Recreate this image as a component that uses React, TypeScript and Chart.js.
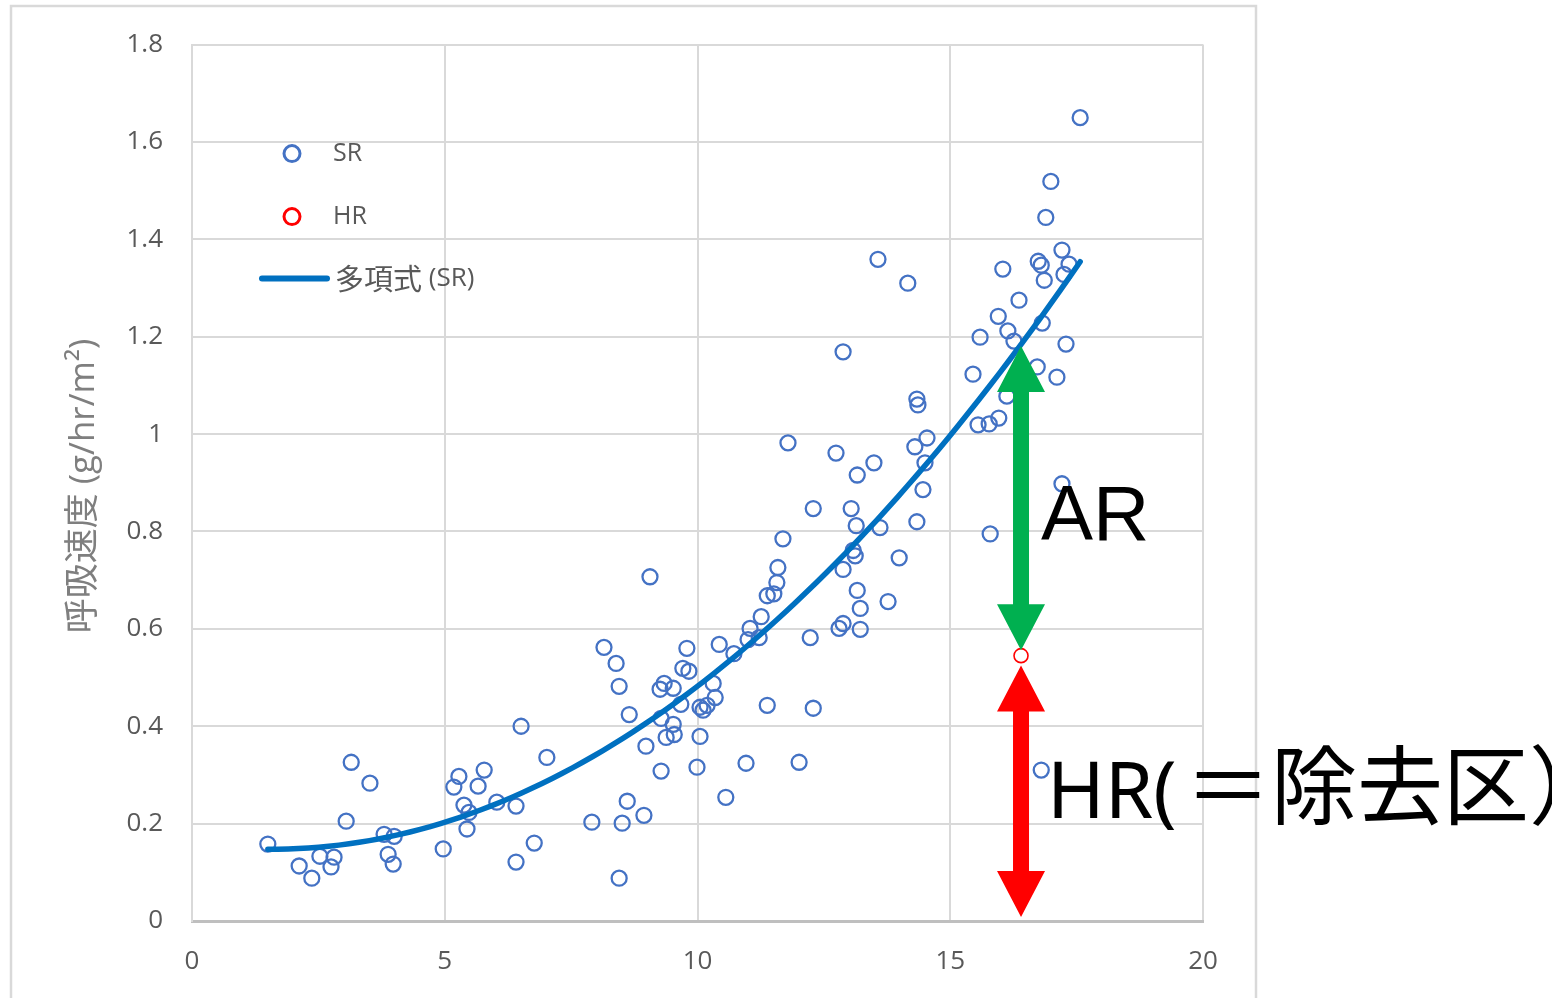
import React, { useEffect, useRef } from 'react';
import { Chart, registerables } from 'chart.js';

Chart.register(...registerables);

// ---- data ----
const SR_X = [1.50, 2.12, 2.37, 2.53, 2.75, 2.81, 3.05, 3.15, 3.52, 3.80, 4.00, 3.88, 3.98, 4.97, 5.18, 5.28, 5.38, 5.48, 5.44, 5.66, 5.78, 6.03, 6.41, 7.02, 6.51, 6.77, 6.41, 7.91, 8.15, 8.39, 8.45, 8.45, 8.51, 8.61, 8.65, 8.94, 8.98, 9.06, 9.28, 9.28, 9.26, 9.34, 9.52, 9.38, 9.54, 9.52, 9.67, 9.71, 9.83, 9.79, 9.99, 10.05, 10.05, 10.11, 10.19, 10.31, 10.35, 10.43, 10.56, 10.72, 10.96, 11.04, 11.00, 11.22, 11.26, 11.38, 11.51, 11.38, 11.57, 11.59, 11.69, 11.79, 12.01, 12.23, 12.29, 12.29, 12.74, 12.80, 12.88, 12.88, 12.88, 13.04, 13.08, 13.12, 13.14, 13.16, 13.16, 13.22, 13.22, 13.49, 13.57, 13.61, 13.77, 13.99, 14.16, 14.30, 14.34, 14.36, 14.34, 14.46, 14.50, 14.54, 15.45, 15.55, 15.59, 15.79, 15.77, 15.95, 15.96, 16.04, 16.14, 16.12, 16.26, 16.36, 16.72, 16.74, 16.80, 16.82, 16.80, 16.86, 16.89, 16.99, 17.11, 17.21, 17.21, 17.29, 17.25, 17.35, 17.57];
const SR_Y = [0.158, 0.113, 0.088, 0.133, 0.111, 0.131, 0.205, 0.326, 0.283, 0.178, 0.174, 0.137, 0.117, 0.148, 0.275, 0.297, 0.238, 0.223, 0.189, 0.277, 0.310, 0.244, 0.236, 0.336, 0.400, 0.160, 0.121, 0.203, 0.562, 0.529, 0.482, 0.088, 0.201, 0.246, 0.424, 0.217, 0.359, 0.707, 0.308, 0.416, 0.476, 0.488, 0.478, 0.377, 0.383, 0.404, 0.445, 0.519, 0.513, 0.560, 0.316, 0.379, 0.439, 0.433, 0.443, 0.488, 0.459, 0.568, 0.254, 0.549, 0.324, 0.601, 0.578, 0.582, 0.625, 0.668, 0.672, 0.443, 0.695, 0.726, 0.785, 0.982, 0.326, 0.582, 0.437, 0.847, 0.961, 0.601, 0.611, 1.169, 0.722, 0.847, 0.761, 0.750, 0.812, 0.916, 0.679, 0.642, 0.599, 0.941, 1.359, 0.808, 0.656, 0.746, 1.310, 0.974, 1.072, 1.060, 0.820, 0.886, 0.941, 0.992, 1.123, 1.019, 1.199, 0.795, 1.021, 1.242, 1.033, 1.339, 1.212, 1.078, 1.191, 1.275, 1.138, 1.355, 1.347, 1.228, 0.310, 1.316, 1.445, 1.519, 1.117, 0.898, 1.378, 1.185, 1.328, 1.349, 1.650];
const HR_X = [16.40];
const HR_Y = [0.545];

const X_MIN = 0;
const X_MAX = 20;
const X_STEP = 5;
const Y_TICK_LABELS = ['0', '0.2', '0.4', '0.6', '0.8', '1', '1.2', '1.4', '1.6', '1.8'];
const Y_MIN = 0;
const Y_MAX = 1.8;
const Y_STEP = 0.2;

const LEGEND_SR = 'SR';
const LEGEND_HR = 'HR';
const LEGEND_TREND_CJK = '多項式';
const LEGEND_TREND_LATIN = ' (SR)';
const Y_TITLE = '呼吸速度 (g/hr/m²)';
const AR_LABEL = 'AR';
const HR_LABEL_LATIN = 'HR(';
const HR_LABEL_CJK = '＝除去区）';

// arrow tip values (y, data units)
const AR_ARROW_TIPS = [1.181, 0.556];
const HR_ARROW_TIPS = [0.525, 0.008];

// ---- helpers ----
function quadFit(xs: number[], ys: number[]) {
  const n = xs.length;
  let s1 = 0, s2 = 0, s3 = 0, s4 = 0, t0 = 0, t1 = 0, t2 = 0;
  for (let i = 0; i < n; i++) {
    const x = xs[i], y = ys[i];
    s1 += x; s2 += x * x; s3 += x * x * x; s4 += x * x * x * x;
    t0 += y; t1 += x * y; t2 += x * x * y;
  }
  const M = [[n, s1, s2], [s1, s2, s3], [s2, s3, s4]];
  const T = [t0, t1, t2];
  const det3 = (m: number[][]) =>
    m[0][0] * (m[1][1] * m[2][2] - m[1][2] * m[2][1]) -
    m[0][1] * (m[1][0] * m[2][2] - m[1][2] * m[2][0]) +
    m[0][2] * (m[1][0] * m[2][1] - m[1][1] * m[2][0]);
  const D = det3(M);
  return [0, 1, 2].map((c) => {
    const mm = M.map((row, r) => row.map((v, k) => (k === c ? T[r] : v)));
    return det3(mm) / D;
  });
}

const FONT = "'Open Sans', 'Noto Sans CJK JP', sans-serif";
const CJK_FONT = "'Noto Sans CJK JP', sans-serif";

function drawDoubleArrow(ctx: CanvasRenderingContext2D, x: number, yTop: number, yBot: number, color: string) {
  const shaft = 16, headW = 48, headL = 46;
  ctx.save();
  ctx.fillStyle = color;
  ctx.beginPath();
  ctx.moveTo(x, yTop);
  ctx.lineTo(x + headW / 2, yTop + headL);
  ctx.lineTo(x + shaft / 2, yTop + headL);
  ctx.lineTo(x + shaft / 2, yBot - headL);
  ctx.lineTo(x + headW / 2, yBot - headL);
  ctx.lineTo(x, yBot);
  ctx.lineTo(x - headW / 2, yBot - headL);
  ctx.lineTo(x - shaft / 2, yBot - headL);
  ctx.lineTo(x - shaft / 2, yTop + headL);
  ctx.lineTo(x - headW / 2, yTop + headL);
  ctx.closePath();
  ctx.fill();
  ctx.restore();
}

const overlayPlugin = {
  id: 'overlay',
  beforeDraw(chart: any) {
    const ctx = chart.ctx as CanvasRenderingContext2D;
    ctx.save();
    ctx.fillStyle = '#ffffff';
    ctx.fillRect(0, 0, chart.width, chart.height);
    ctx.strokeStyle = '#d9d9d9';
    ctx.lineWidth = 2.5;
    ctx.strokeRect(11, 6, 1245, 1100);
    ctx.restore();
  },
  afterDraw(chart: any) {
    const ctx = chart.ctx as CanvasRenderingContext2D;
    const area = chart.chartArea;
    const xs = chart.scales.x;
    const ys = chart.scales.y;

    // legend
    ctx.save();
    const lx = area.left + 100;
    ctx.lineWidth = 3;
    ctx.strokeStyle = '#4472C4';
    ctx.beginPath();
    ctx.arc(lx, area.top + 109, 8, 0, Math.PI * 2);
    ctx.stroke();
    ctx.strokeStyle = '#FF0000';
    ctx.beginPath();
    ctx.arc(lx, area.top + 172, 8, 0, Math.PI * 2);
    ctx.stroke();
    ctx.strokeStyle = '#0070C0';
    ctx.lineWidth = 6;
    ctx.lineCap = 'round';
    ctx.beginPath();
    ctx.moveTo(area.left + 70, area.top + 234);
    ctx.lineTo(area.left + 135, area.top + 234);
    ctx.stroke();
    ctx.fillStyle = '#595959';
    ctx.textBaseline = 'middle';
    ctx.textAlign = 'left';
    ctx.font = `25px ${FONT}`;
    ctx.fillText(LEGEND_SR, area.left + 141, area.top + 109);
    ctx.fillText(LEGEND_HR, area.left + 141, area.top + 172);
    ctx.font = `29px ${CJK_FONT}`;
    ctx.fillText(LEGEND_TREND_CJK, area.left + 143, area.top + 234);
    const w = ctx.measureText(LEGEND_TREND_CJK).width;
    ctx.font = `26px ${FONT}`;
    ctx.fillText(LEGEND_TREND_LATIN, area.left + 143 + w, area.top + 234);
    ctx.restore();

    // y axis title
    ctx.save();
    ctx.translate(84, 486);
    ctx.rotate(-Math.PI / 2);
    ctx.font = `35px ${FONT}`;
    ctx.fillStyle = '#7f7f7f';
    ctx.textAlign = 'center';
    ctx.textBaseline = 'middle';
    ctx.fillText(Y_TITLE, 0, 0);
    ctx.restore();

    // arrows
    const ax = xs.getPixelForValue(HR_X[0]);
    drawDoubleArrow(ctx, ax, ys.getPixelForValue(AR_ARROW_TIPS[0]), ys.getPixelForValue(AR_ARROW_TIPS[1]), '#00B050');
    drawDoubleArrow(ctx, ax, ys.getPixelForValue(HR_ARROW_TIPS[0]), ys.getPixelForValue(HR_ARROW_TIPS[1]), '#FF0000');

    // labels
    ctx.save();
    ctx.fillStyle = '#000000';
    ctx.textAlign = 'left';
    ctx.textBaseline = 'alphabetic';
    ctx.font = `78px 'Liberation Sans', Arial, sans-serif`;
    ctx.fillText(AR_LABEL, 1041, 540);
    ctx.font = `78px 'Noto Sans', sans-serif`;
    ctx.fillText(HR_LABEL_LATIN, 1047, 818);
    ctx.font = `86px ${CJK_FONT}`;
    ctx.fillText(HR_LABEL_CJK, 1185, 818);
    ctx.restore();
  },
};

export default function App() {
  const canvasRef = useRef<HTMLCanvasElement | null>(null);

  useEffect(() => {
    const canvas = canvasRef.current;
    if (!canvas) return;
    const [a, b, c] = quadFit(SR_X, SR_Y);
    const xmin = Math.min(...SR_X);
    const xmax = Math.max(...SR_X);
    const N = 80;
    const trend = Array.from({ length: N + 1 }, (_, i) => {
      const x = xmin + ((xmax - xmin) * i) / N;
      return { x, y: a + b * x + c * x * x };
    });
    const srData = SR_X.map((x, i) => ({ x, y: SR_Y[i] }));
    const hrData = HR_X.map((x, i) => ({ x, y: HR_Y[i] }));

    const tickFont = { family: FONT, size: 26 };
    const chart = new Chart(canvas, {
      type: 'scatter',
      data: {
        datasets: [
          {
            type: 'line',
            label: '多項式 (SR)',
            data: trend,
            borderColor: '#0070C0',
            borderWidth: 5.5,
            pointRadius: 0,
            fill: false,
            tension: 0,
            borderCapStyle: 'round',
            order: 0,
          } as any,
          {
            label: 'HR',
            data: hrData,
            pointRadius: 7,
            pointBorderWidth: 1.6,
            pointBorderColor: '#FF0000',
            pointBackgroundColor: 'rgba(0,0,0,0)',
            borderColor: '#FF0000',
            backgroundColor: 'rgba(0,0,0,0)',
            order: 1,
          },
          {
            label: 'SR',
            data: srData,
            pointRadius: 7.5,
            pointBorderWidth: 2.3,
            pointBorderColor: '#4472C4',
            pointBackgroundColor: 'rgba(0,0,0,0)',
            borderColor: '#4472C4',
            backgroundColor: 'rgba(0,0,0,0)',
            order: 2,
          },
        ],
      },
      options: {
        animation: false,
        responsive: false,
        layout: { padding: { top: 43, right: 349, bottom: 0, left: 0 } },
        plugins: { legend: { display: false }, tooltip: { enabled: false } },
        scales: {
          x: {
            type: 'linear',
            min: X_MIN,
            max: X_MAX,
            ticks: { stepSize: X_STEP, color: '#595959', font: tickFont, padding: 25 },
            grid: { color: '#d9d9d9', lineWidth: 2, drawTicks: false },
            border: { color: '#bfbfbf', width: 3 },
            afterFit: (s: any) => { s.height = 77; },
          },
          y: {
            type: 'linear',
            min: Y_MIN,
            max: Y_MAX,
            ticks: {
              stepSize: Y_STEP,
              color: '#595959',
              font: tickFont,
              padding: 29,
              callback: (_v: any, i: number) => Y_TICK_LABELS[i],
            },
            grid: { color: '#d9d9d9', lineWidth: 2, drawTicks: false },
            border: { color: '#d9d9d9', width: 2 },
            afterFit: (s: any) => { s.width = 192; },
          },
        },
      } as any,
      plugins: [overlayPlugin],
    });
    return () => chart.destroy();
  }, []);

  return (
    <div style={{ position: 'fixed', left: 0, top: 0, width: 1552, height: 998, background: '#fff' }}>
      <canvas ref={canvasRef} width={1552} height={998} style={{ width: 1552, height: 998, display: 'block' }} />
    </div>
  );
}
